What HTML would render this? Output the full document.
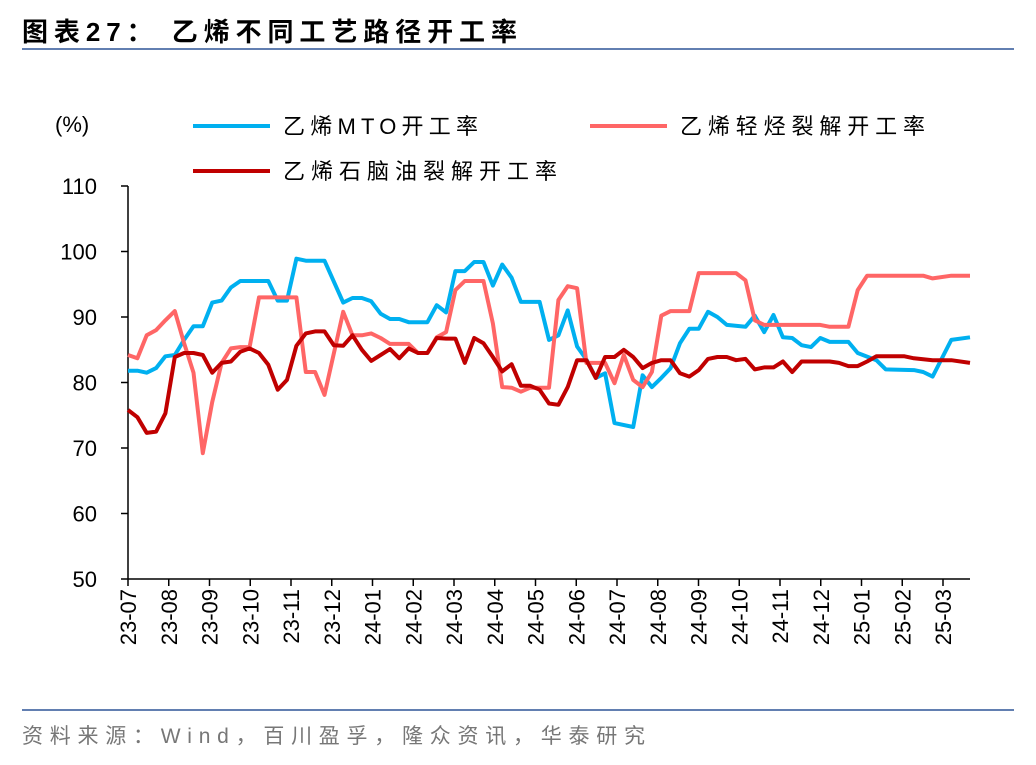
<!DOCTYPE html>
<html><head><meta charset="utf-8"><style>
body{margin:0;background:#fff;}
svg text{font-family:"Liberation Sans","Noto Sans CJK SC",sans-serif;}
</style></head><body>
<svg width="1036" height="760" viewBox="0 0 1036 760">
<text x="22" y="41" font-size="26" font-weight="bold" fill="#000" textLength="495" lengthAdjust="spacing">图表27：  乙烯不同工艺路径开工率</text>
<line x1="22" y1="49" x2="1014" y2="49" stroke="#2f5597" stroke-width="1.5"/>
<text x="55" y="132" font-size="22">(%)</text>
<g>
<line x1="193" y1="126" x2="270" y2="126" stroke="#00b0f0" stroke-width="4"/>
<text x="283" y="134" font-size="22" textLength="195" lengthAdjust="spacing">乙烯MTO开工率</text>
<line x1="590" y1="126" x2="667" y2="126" stroke="#ff6666" stroke-width="4"/>
<text x="680" y="134" font-size="22" textLength="245" lengthAdjust="spacing">乙烯轻烃裂解开工率</text>
<line x1="193" y1="171" x2="270" y2="171" stroke="#c00000" stroke-width="4"/>
<text x="283" y="179" font-size="22" textLength="274" lengthAdjust="spacing">乙烯石脑油裂解开工率</text>
</g>
<g id="axes"></g>
<g id="series"></g>
<line x1="22" y1="710" x2="1014" y2="710" stroke="#2f5597" stroke-width="1.5"/>
<text x="22" y="743" font-size="21" fill="#777" textLength="623" lengthAdjust="spacing">资料来源：Wind，百川盈孚，隆众资讯，华泰研究</text>
</svg>
<script>
const monthLabels=["23-07","23-08","23-09","23-10","23-11","23-12","24-01","24-02","24-03","24-04","24-05","24-06","24-07","24-08","24-09","24-10","24-11","24-12","25-01","25-02","25-03"];
const yTicks=[50,60,70,80,90,100,110];
const mtoWeeks=[0,1,2,3,4,5,6,7,8,9,10,11,12,15,16,17,18,19,21,23,24,25,26,27,28,29,30,32,33,34,35,36,37,38,39,40,41,42,44,45,46,47,48,49,50,51,52,54,55,56,57,58,59,60,61,62,63,64,66,67,68,69,70,71,72,73,74,75,77,78,80,81,84,85,86,88,90];
const mtoValues=[81.8,81.8,81.5,82.2,84,84.2,86.5,88.6,88.6,92.2,92.5,94.5,95.5,95.5,92.5,92.5,98.9,98.6,98.6,92.2,92.9,92.9,92.4,90.5,89.7,89.7,89.2,89.2,91.8,90.7,97,97,98.4,98.4,94.8,98,96,92.3,92.3,86.5,87.2,91,85.5,83.5,80.7,81.4,73.8,73.2,81.1,79.3,80.7,82.2,86,88.2,88.2,90.8,90,88.8,88.5,90.2,87.7,90.3,86.9,86.8,85.7,85.4,86.8,86.2,86.2,84.5,83.4,82,81.9,81.6,80.9,86.5,86.9];
const lightWeeks=[0,1,2,3,4,5,6,7,8,9,10,11,12,13,14,18,19,20,21,23,24,25,26,27,28,30,31,32,33,34,35,36,38,39,40,41,42,43,45,46,47,48,49,51,52,53,54,55,56,57,58,60,61,65,66,67,68,74,75,77,78,79,85,86,88,90];
const lightValues=[84.2,83.7,87.2,88,89.5,90.9,86,81.5,69.2,77,83,85.2,85.4,85.4,93,93,81.6,81.6,78.1,90.8,87.2,87.2,87.5,86.8,85.9,85.9,84.5,84.5,86.9,87.7,94.1,95.5,95.5,89,79.3,79.2,78.6,79.2,79.2,92.6,94.7,94.4,83,83,79.9,84.2,80.4,79.3,81.6,90.2,90.9,90.9,96.7,96.7,95.6,89.5,88.8,88.8,88.5,88.5,94.1,96.3,96.3,95.9,96.3,96.3];
const naphthaWeeks=[0,1,2,3,4,5,6,7,8,9,10,11,12,13,14,15,16,17,18,19,20,21,22,23,24,25,26,27,28,29,30,31,32,33,34,35,36,37,38,39,40,41,42,43,44,45,46,47,48,49,50,51,52,53,54,55,56,57,58,59,60,61,62,63,64,65,66,67,68,69,70,71,72,75,76,77,78,79,80,83,84,86,88,90];
const naphthaValues=[75.8,74.7,72.3,72.5,75.3,83.9,84.5,84.5,84.2,81.5,83,83.2,84.7,85.2,84.5,82.7,78.9,80.4,85.6,87.5,87.8,87.8,85.7,85.6,87.2,85,83.3,84.2,85.1,83.7,85.2,84.5,84.5,86.8,86.7,86.7,83,86.8,86,83.9,81.7,82.8,79.5,79.5,78.9,76.8,76.6,79.3,83.4,83.4,80.7,83.9,83.9,85,83.9,82.2,83,83.4,83.4,81.4,80.9,81.9,83.6,83.9,83.9,83.4,83.6,82,82.3,82.3,83.2,81.6,83.2,83.2,83,82.5,82.5,83.2,84,84,83.7,83.4,83.4,83];
const NS="http://www.w3.org/2000/svg";
const X0=128,X1=970,Y0=579,Y1=186,WEEKS=90,MONTHW=40.75;
const xW=w=>X0+w*(X1-X0)/WEEKS;
const xM=m=>X0+m*MONTHW;
const yV=v=>Y0-(v-50)/60*(Y0-Y1);
function mk(t,a,p){const e=document.createElementNS(NS,t);for(const k in a)e.setAttribute(k,a[k]);p.appendChild(e);return e;}
const ax=document.getElementById('axes');
let yl=mk('line',{x1:X0,y1:Y1,x2:X0,y2:Y0,stroke:'#000','stroke-width':1.5},ax);


let xl=mk('line',{x1:X0,y1:Y0,x2:X1,y2:Y0,stroke:'#000','stroke-width':1.5},ax);


yTicks.forEach(v=>{
 const t=mk('line',{x1:X0-7,y1:yV(v),x2:X0,y2:yV(v),stroke:'#000','stroke-width':1.5},ax);
 
 
 const l=mk('text',{x:97,y:yV(v)+8,'font-size':22,'text-anchor':'end'},ax);
 
 
 l.textContent=v;
});
monthLabels.forEach((m,i)=>{
 const x=xM(i);
 const t=mk('line',{x1:x,y1:Y0,x2:x,y2:Y0+7,stroke:'#000','stroke-width':1.5},ax);
 
 
 const l=mk('text',{x:0,y:0,'font-size':22,'text-anchor':'end',transform:`translate(${x+8},${Y0+10}) rotate(-90)`},ax);
 
 
 l.textContent=m;
});
const sg=document.getElementById('series');
[[mtoWeeks,mtoValues,'#00b0f0','mto-line'],[lightWeeks,lightValues,'#ff6666','light-cracking-line'],[naphthaWeeks,naphthaValues,'#c00000','naphtha-cracking-line']].forEach(([w,v,c,n])=>{
 const pts=w.map((wk,i)=>xW(wk).toFixed(1)+','+yV(v[i]).toFixed(1)).join(' ');
 const p=mk('polyline',{points:pts,fill:'none',stroke:c,'stroke-width':4,'stroke-linejoin':'round'},sg);
 
 
});
</script>
</body></html>
